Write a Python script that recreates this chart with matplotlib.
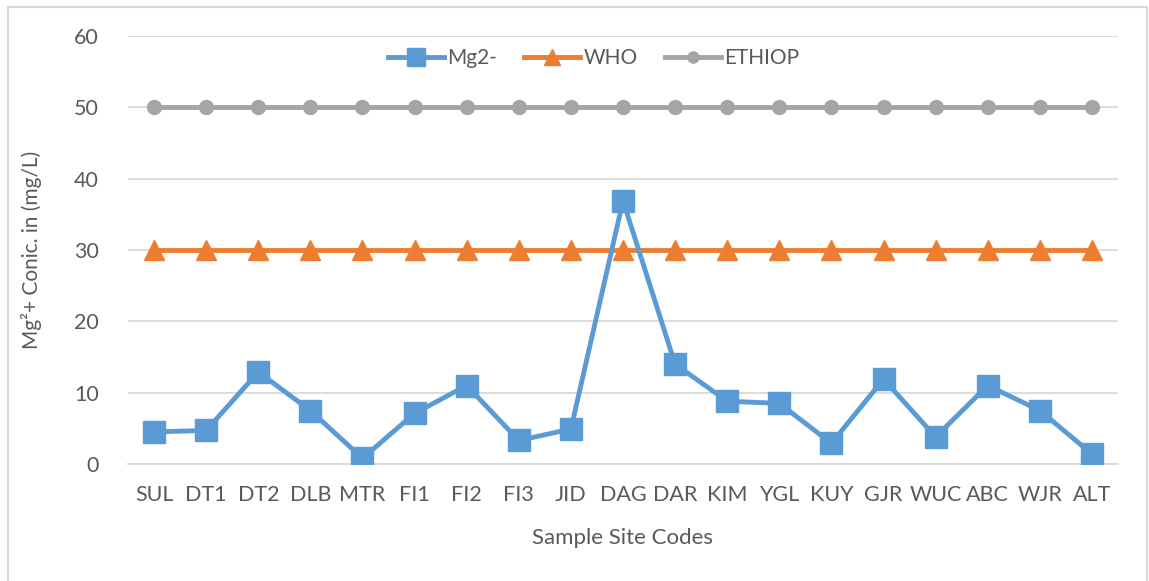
import matplotlib
matplotlib.use("Agg")
import matplotlib.pyplot as plt
from matplotlib.lines import Line2D

sites = ["SUL", "DT1", "DT2", "DLB", "MTR", "FI1", "FI2", "FI3", "JID", "DAG",
         "DAR", "KIM", "YGL", "KUY", "GJR", "WUC", "ABC", "WJR", "ALT"]
mg = [4.5, 4.7, 12.9, 7.5, 0.8, 7.1, 11.0, 3.3, 4.9, 36.9,
      14.0, 8.8, 8.5, 2.9, 11.9, 3.8, 11.0, 7.5, 1.4]
who = [30] * len(sites)
ethiop = [50] * len(sites)
yticks = [0, 10, 20, 30, 40, 50, 60]

plt.rcParams['font.family'] = ['Lato', 'DejaVu Sans']
txt = '#595959'

fig = plt.figure(figsize=(11.49, 5.81), dpi=100)
ax = fig.add_axes([128/1149, 1-464/581, (1118-128)/1149, (464-36)/581])

x = list(range(len(sites)))
ax.plot(x, mg, color='#5B9BD5', lw=3.5, marker='s', ms=15.5, label='Mg2-', zorder=3)
ax.plot(x, who, color='#ED7D31', lw=3.5, marker='^', ms=14, label='WHO', zorder=2)
ax.plot(x, ethiop, color='#A5A5A5', lw=3.5, marker='o', ms=10, label='ETHIOP', zorder=2)

ax.set_xlim(-0.5, len(sites) - 0.5)
ax.set_ylim(0, 60)
ax.set_yticks(yticks)
ax.set_xticks(x)
ax.set_xticklabels(sites)
ax.yaxis.grid(True, color='#D9D9D9', lw=1.3)
ax.set_axisbelow(True)
for s in ['top', 'right', 'left']:
    ax.spines[s].set_visible(False)
ax.spines['bottom'].set_color('#D9D9D9')
ax.spines['bottom'].set_linewidth(1.3)
ax.tick_params(axis='both', length=0, colors=txt, labelsize=15.5)
ax.tick_params(axis='x', pad=15)
ax.tick_params(axis='y', pad=21)
ax.set_xlabel('Sample Site Codes', color=txt, fontsize=16, labelpad=17)
ax.set_ylabel('Mg²+ Conic. in (mg/L)', color=txt, fontsize=15)
ax.yaxis.set_label_coords(-0.087, 0.5)

leg = ax.legend(loc='upper center', bbox_to_anchor=(0.47, 1.015), ncol=3, frameon=False,
                fontsize=15, handlelength=2.7, columnspacing=1.3, handletextpad=0.15,
                markerscale=0.8, labelcolor=txt)

# outer chart border
fig.add_artist(Line2D([8/1149, 8/1149, 1147/1149, 1147/1149],
                      [0, 1-7/581, 1-7/581, 0], transform=fig.transFigure,
                      color='#D9D9D9', lw=1.5))

fig.savefig('out.png', dpi=100)
